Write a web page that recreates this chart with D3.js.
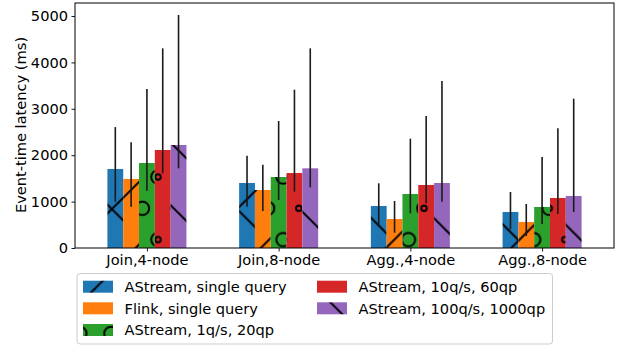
<!DOCTYPE html>
<html>
<head>
<meta charset="utf-8">
<script src="https://cdn.jsdelivr.net/npm/d3@7/dist/d3.min.js"></script>
<style>
  html, body { margin: 0; padding: 0; background: #fff; }
  svg { display: block; }
  text { font-family: "DejaVu Sans", sans-serif; fill: #000; }
</style>
</head>
<body>
<svg id="chart" width="621" height="347"></svg>
<script>
// ---------- data ----------
const categories = ["Join,4-node", "Join,8-node", "Agg.,4-node", "Agg.,8-node"];
const seriesNames = [
  "AStream, single query",
  "Flink, single query",
  "AStream, 1q/s, 20qp",
  "AStream, 10q/s, 60qp",
  "AStream, 100q/s, 1000qp"
];
const meanAStreamSingle = [1703, 1401, 905, 776];
const meanFlinkSingle   = [1487, 1250, 625, 560];
const mean1qs           = [1832, 1530, 1164, 884];
const mean10qs          = [2112, 1616, 1358, 1078];
const mean100qs         = [2220, 1717, 1401, 1121];

const lowAStreamSingle = [998, 890, 460, 402];
const lowFlinkSingle   = [890, 797, 330, 259];
const low1qs           = [1235, 1034, 747, 517];
const low10qs          = [1609, 1214, 963, 733];
const low100qs         = [1717, 1307, 998, 776];

const highAStreamSingle = [2606, 1990, 1394, 1207];
const highFlinkSingle   = [2277, 1796, 1013, 948];
const high1qs           = [3427, 2737, 2356, 1961];
const high10qs          = [4303, 3412, 2845, 2579];
const high100qs         = [5021, 4303, 3599, 3218];

const yTicks = [0, 1000, 2000, 3000, 4000, 5000];
const yLabel = "Event-time latency (ms)";

const means = [meanAStreamSingle, meanFlinkSingle, mean1qs, mean10qs, mean100qs];
const lows  = [lowAStreamSingle, lowFlinkSingle, low1qs, low10qs, low100qs];
const highs = [highAStreamSingle, highFlinkSingle, high1qs, high10qs, high100qs];

// ---------- style ----------
const colors = ["#1f77b4", "#ff7f0e", "#2ca02c", "#d62728", "#9467bd"];
const hatches = ["x", "/", "O", "o", "\\"];
const barW = 0.12;

const svg = d3.select("#chart");
const mLeft = 75, mRight = 614, mTop = 3, mBottom = 248;

const x = d3.scaleLinear().domain([-0.546, 3.546]).range([mLeft, mRight]);
const y = d3.scaleLinear().domain([0, 5280]).range([mBottom, mTop]);

// ---------- hatch patterns (globally aligned, user space) ----------
const T = 62.6, ox = 158, oy = 177;
const defs = svg.append("defs");
const slashC = [48.6 - T, 48.6, 48.6 + T];
const backC = [47 - T, 47, 47 + T];
const circPts = [
  [0, 0], [T / 2, 0], [T, 0],
  [T / 4, T / 2], [3 * T / 4, T / 2],
  [0, T], [T / 2, T], [T, T]
];
hatches.forEach((h, i) => {
  const p = defs.append("pattern")
    .attr("id", "hatch" + i)
    .attr("patternUnits", "userSpaceOnUse")
    .attr("x", ox).attr("y", oy)
    .attr("width", T).attr("height", T);
  p.append("rect").attr("width", T).attr("height", T).attr("fill", colors[i]);
  if (h === "/" || h === "x") {
    slashC.forEach(c => {
      p.append("line").attr("x1", c + 5).attr("y1", -5).attr("x2", -5).attr("y2", c + 5)
        .attr("stroke", "#000").attr("stroke-width", 2);
    });
  }
  if (h === "\\" || h === "x") {
    backC.forEach(c => {
      p.append("line").attr("x1", c - 5).attr("y1", -5).attr("x2", c + T + 5).attr("y2", T + 5)
        .attr("stroke", "#000").attr("stroke-width", 2);
    });
  }
  if (h === "O" || h === "o") {
    const r = h === "O" ? 6.8 : 2.8;
    circPts.forEach(([cx, cy]) => {
      p.append("circle").attr("cx", cx).attr("cy", cy).attr("r", r)
        .attr("fill", "none").attr("stroke", "#000").attr("stroke-width", 2);
    });
  }
});

// ---------- bars ----------
const barData = [];
means.forEach((arr, s) => arr.forEach((v, c) => barData.push({ s, c, v, lo: lows[s][c], hi: highs[s][c] })));

svg.append("g").selectAll("rect").data(barData).join("rect")
  .attr("x", d => x(d.c + (d.s - 2) * barW - barW / 2))
  .attr("width", d => x(barW) - x(0))
  .attr("y", d => y(d.v))
  .attr("height", d => y(0) - y(d.v))
  .attr("fill", d => `url(#hatch${d.s})`);

// ---------- error bars ----------
svg.append("g").selectAll("line").data(barData).join("line")
  .attr("x1", d => x(d.c + (d.s - 2) * barW))
  .attr("x2", d => x(d.c + (d.s - 2) * barW))
  .attr("y1", d => y(d.lo))
  .attr("y2", d => y(d.hi))
  .attr("stroke", "#1a1a1a").attr("stroke-width", 1.6);

// ---------- axes ----------
const fs = "14.6px";
const yAxis = d3.axisLeft(y).tickValues(yTicks).tickSize(3.5).tickPadding(3.5).tickFormat(d3.format("d"));
const gy = svg.append("g").attr("transform", `translate(${mLeft},0)`).call(yAxis);
gy.select(".domain").remove();
gy.selectAll("text").style("font-size", fs).style("font-family", "DejaVu Sans").attr("fill", "#000");
gy.selectAll("line").attr("stroke", "#000").attr("stroke-width", 0.9);

const xAxis = d3.axisBottom(x).tickValues(d3.range(categories.length)).tickSize(3.5).tickPadding(3.5)
  .tickFormat(i => categories[i]);
const gx = svg.append("g").attr("transform", `translate(0,${mBottom})`).call(xAxis);
gx.select(".domain").remove();
gx.selectAll("text").style("font-size", fs).style("font-family", "DejaVu Sans").attr("fill", "#000");
gx.selectAll("line").attr("stroke", "#000").attr("stroke-width", 0.9);

// frame
svg.append("rect").attr("x", mLeft).attr("y", mTop).attr("width", mRight - mLeft).attr("height", mBottom - mTop)
  .attr("fill", "none").attr("stroke", "#000").attr("stroke-width", 1);

// y label
svg.append("text")
  .attr("transform", `translate(26,125) rotate(-90)`)
  .attr("text-anchor", "middle")
  .style("font-size", fs)
  .text(yLabel);

// ---------- legend ----------
const lg = svg.append("g");
lg.append("rect").attr("x", 77).attr("y", 273.5).attr("width", 475.5).attr("height", 70.5)
  .attr("rx", 3).attr("fill", "#fff").attr("fill-opacity", 0.8)
  .attr("stroke", "#cccccc").attr("stroke-width", 1);
const colX = [83, 317];
const rowY = [286.7, 308.3, 330];
seriesNames.forEach((name, i) => {
  const col = i < 3 ? 0 : 1;
  const row = i < 3 ? i : i - 3;
  const cx = colX[col], cy = rowY[row];
  lg.append("rect").attr("x", cx).attr("y", cy - 6).attr("width", 30).attr("height", 12)
    .attr("fill", `url(#hatch${i})`);
  lg.append("text").attr("x", cx + 41.5).attr("y", cy + 5.4)
    .style("font-size", fs).text(name);
});
</script>
</body>
</html>
